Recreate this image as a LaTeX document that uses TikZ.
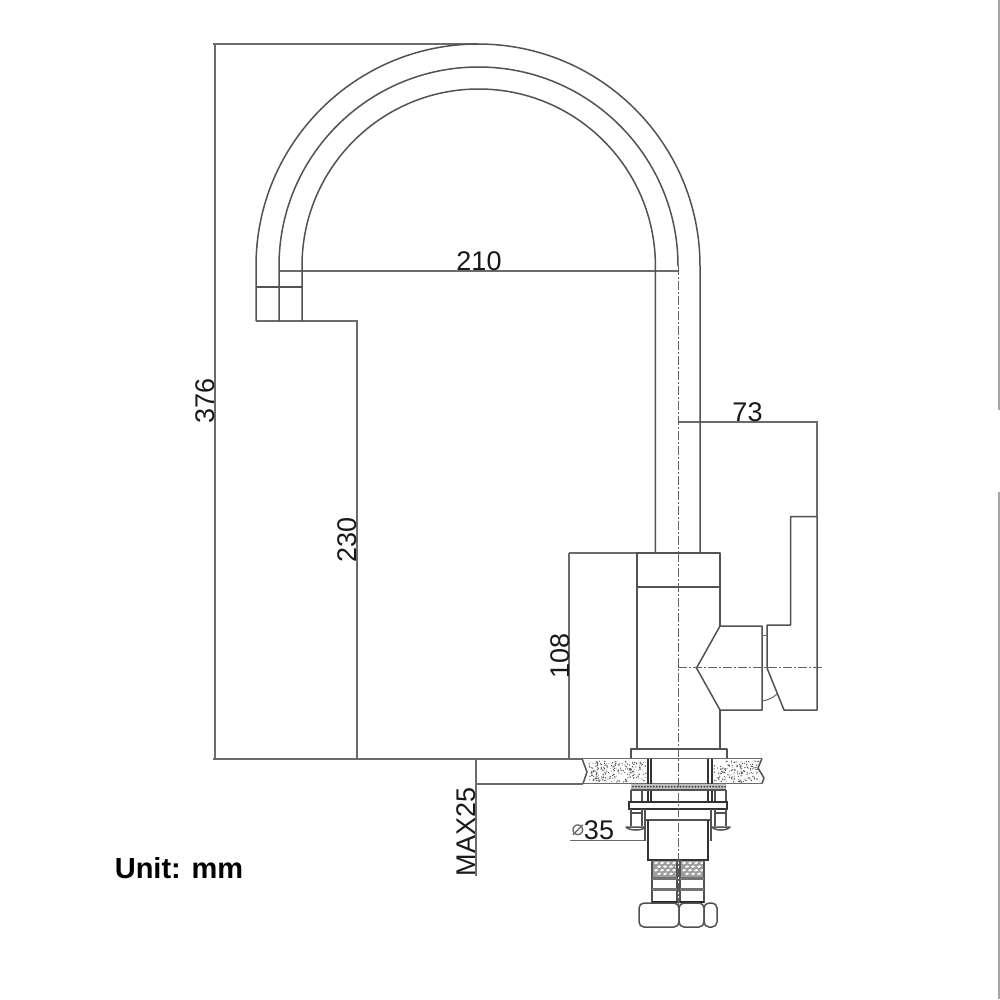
\documentclass[tikz,border=0pt]{standalone}
\usepackage{fontspec}
\setmainfont{Liberation Sans}
\newfontfamily\symfont{DejaVu Sans}
\tikzset{
  part/.style={draw=black!68,line width=1.5pt,line join=round},
  dimline/.style={draw=black!58,line width=1.7pt},
  thin part/.style={draw=black!60,line width=1pt},
  heavy/.style={draw=black!80,line width=1.6pt},
  axis/.style={draw=black!62,line width=1pt,dash pattern=on 9pt off 2pt on 2pt off 2pt},
  dimtext/.style={font=\fontsize{27}{27}\selectfont,text=black!90,inner sep=0pt},
}
\begin{document}
\begin{tikzpicture}[x=1pt,y=-1pt]
\path[use as bounding box,fill=white] (0,0) rectangle (1000,999);
% edge marks
\draw[draw=black!35,line width=1.5pt] (999,0) -- (999,410) (999,492) -- (999,999);
% dimension lines
\draw[dimline] (213,44) -- (478,44) (215,44) -- (215,759);
\draw[dimline] (213,759) -- (582,759);
\draw[dimline] (279,271) -- (678,271);
\draw[dimline] (256,321) -- (357,321) -- (357,759);
\draw[dimline] (569,553) -- (637,553) (569,553) -- (569,759);
\draw[dimline] (678,422) -- (817,422) -- (817,516);
\draw[dimline] (476,759) -- (476,876);
\draw[dimline] (476,784) -- (583,784);
\draw[dimline] (570,840.5) -- (645,840.5);
% spout
\draw[part] (256,321) -- (256,266) arc[start angle=180,end angle=360,radius=222] -- (700,553);
\draw[part] (302,321) -- (302,266) arc[start angle=180,end angle=360,x radius=176.7,y radius=177] -- (655.4,553);
\draw[part] (279,321) -- (279,266) arc[start angle=180,end angle=360,x radius=199.5,y radius=199];
\draw[axis] (678,266) -- (678,553);
\draw[part] (256,287) -- (302,287);
% body
\draw[part] (637,553) rectangle (720,749);
\draw[part] (637,587) -- (720,587);
\draw[part] (631,758.5) -- (631,749) -- (727,749) -- (727,758.5);
% lever connector and handle
\draw[part,fill=white] (720,626) -- (762,626) -- (762,710) -- (720,710) -- (696.5,668) -- cycle;
\draw[part] (767,668) -- (767,625) -- (790.5,625) -- (790.5,516.5) -- (817,516.5) -- (817,710) -- (784,710) -- cycle;
\draw[thin part] (762,635) -- (767,635);
\draw[thin part] (762,701) .. controls (768,700) and (773,698) .. (777,694);
\draw[axis] (678,667.5) -- (823,667.5);
% worktop
\draw[dimline] (582,758.5) -- (762,758.5) (583,783.5) -- (762,783.5);
\draw[part] (582,758.5) -- (587,772) -- (583,783.5);
\draw[part] (762,758.5) -- (758,768) -- (764,778) -- (762,783.5);
\fill[white] (650.5,760) rectangle (708,782);
\pgfmathsetseed{7}
\foreach \i in {1,...,230}{
  \pgfmathsetmacro{\px}{589+rnd*57}
  \pgfmathsetmacro{\py}{761+rnd*21}
  \pgfmathsetmacro{\pr}{0.35+rnd*0.45}
  \fill[black!70] (\px,\py) circle[radius=\pr];
}
\foreach \i in {1,...,170}{
  \pgfmathsetmacro{\px}{714+rnd*46}
  \pgfmathsetmacro{\py}{761+rnd*21}
  \pgfmathsetmacro{\pr}{0.35+rnd*0.45}
  \fill[black!70] (\px,\py) circle[radius=\pr];
}
% through-shank
\draw[heavy] (648,758.5) -- (648,802) (651,758.5) -- (651,802);
\draw[heavy] (708,758.5) -- (708,802) (712,758.5) -- (712,802);
% serrated washer
\fill[black!25] (631,783.5) rectangle (726,790);
\foreach \k in {0,...,31}{
  \fill[black!75] (633+\k*2.97,786.7) circle[radius=1];
}
\draw[part] (631,790) -- (726,790);
% clamp plate and bolts
\draw[part] (631,790) -- (631,802) (642,790) -- (642,802);
\draw[part] (726,790) -- (726,802) (715,790) -- (715,802);
\draw[heavy] (629,802) rectangle (727,809);
\draw[heavy] (645,809) -- (711,809);
\draw[part] (631,809) -- (631,826) (642,809) -- (642,826) (631,813) -- (642,813);
\draw[part] (715,809) -- (715,826) (726,809) -- (726,826) (715,813) -- (726,813);
\draw[part,fill=white] (626,827) -- (645,827) .. controls (643,831) and (629,831) .. (626,827) -- cycle;
\draw[part,fill=white] (712,827) -- (730,827) .. controls (727,831) and (715,831) .. (712,827) -- cycle;
% tube
\draw[part] (645,809) -- (645,840.5);
\draw[part] (711,809) -- (711,840.5);
\draw[part] (646,820) -- (710,820);
\draw[heavy] (648,820) -- (648,860) -- (708,860) -- (708,820);
% hoses
\foreach \a/\b in {652/677,680/704}{
  \fill[black!38] (\a,861) rectangle (\b,877);
  \foreach \n in {0,...,3}{
    \foreach \m in {0,...,3}{
      \fill[white] ({\a+2+\n*6+mod(\m,2)*3},{863+\m*3.6}) -- ++(2.6,-1.3) -- ++(1.6,1.3) -- ++(-2.6,1.3) -- cycle;
    }
  }
  \draw[part] (\a,860) -- (\a,903) (\b,860) -- (\b,903);
  \draw[draw=black!55,line width=2.4pt] (\a,878.5) -- (\b,878.5) (\a,889.5) -- (\b,889.5);
  \draw[draw=black!85,line width=2pt] (\a,902) -- (\b,902);
}
% nut
\draw[part,rounded corners=5pt] (639,903) rectangle (679,927);
\draw[part,rounded corners=5pt] (679,903) rectangle (704,927);
\draw[part,rounded corners=5pt] (704,903) rectangle (717,927);
% centre axis
\draw[axis] (678,553) -- (678,905);
% texts
\node[dimtext] (d210) at (479,261) {210};
\node[dimtext,rotate=90] (d376) at (205,401) {376};
\node[dimtext,rotate=90] (d230) at (347,540) {230};
\node[dimtext,rotate=90] (d108) at (560,656) {108};
\node[dimtext] (d73) at (747.5,412) {73};
\node[dimtext,rotate=90] (dmax) at (466,832) {MAX25};
\node[dimtext] (d35) at (599,830) {35};
\node[font=\symfont\fontsize{21}{21}\selectfont,text=black!60,inner sep=0pt] (dphi) at (578,830) {⌀};
\node[font=\bfseries\fontsize{29}{29}\selectfont,text=black,inner sep=0pt] (unit) at (179,868) {Unit: mm};
\end{tikzpicture}
\end{document}
